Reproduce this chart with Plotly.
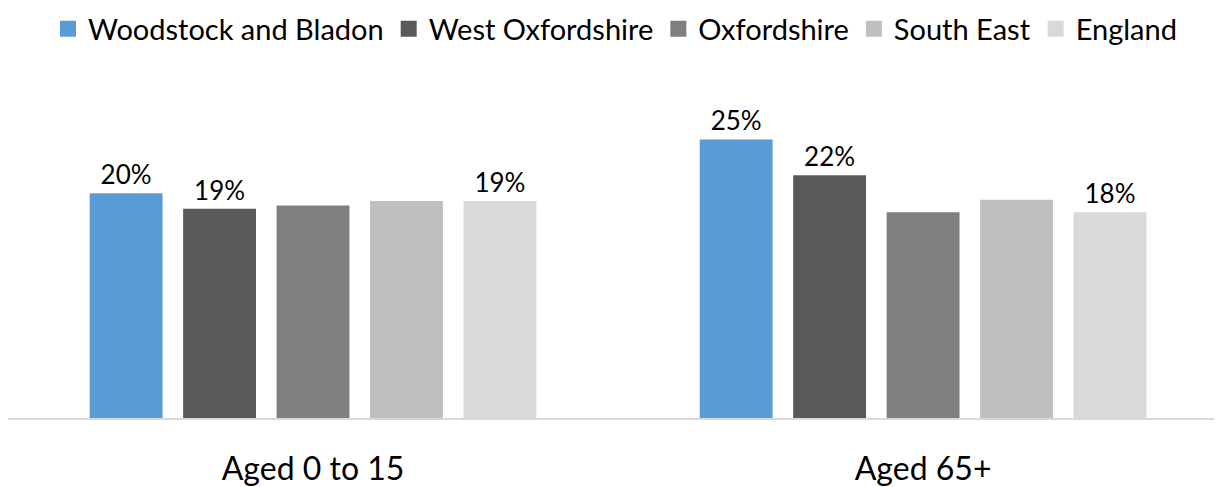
import plotly.graph_objects as go

categories = ["Aged 0 to 15", "Aged 65+"]
series_names = ["Woodstock and Bladon", "West Oxfordshire", "Oxfordshire", "South East", "England"]
woodstock = [0.201, 0.249]
west_oxon = [0.187, 0.217]
oxfordshire = [0.190, 0.184]
south_east = [0.194, 0.195]
england = [0.194, 0.184]
show_labels = [True, True, False, False, True]
colors = ["#5b9bd5", "#595959", "#7f7f7f", "#bfbfbf", "#d9d9d9"]

FONT = "Lato, Calibri, sans-serif"

fig = go.Figure()
for name, vals, lab, col in zip(series_names, [woodstock, west_oxon, oxfordshire, south_east, england], show_labels, colors):
    fig.add_trace(go.Bar(
        x=categories, y=vals, name=name, marker_color=col,
        marker_line_width=0, showlegend=False,
        texttemplate="%{y:.0%}" if lab else "",
        textposition="outside", cliponaxis=False,
        textfont=dict(size=26, color="#000000", family=FONT),
    ))
# legend entries with larger square swatches
for name, col in zip(series_names, colors):
    fig.add_trace(go.Scatter(
        x=[None], y=[None], mode="markers", name=name,
        marker=dict(symbol="square", size=18, color=col),
        showlegend=True, hoverinfo="skip",
    ))

fig.update_layout(
    barmode="group", bargap=0.234, bargroupgap=0.22,
    width=1214, height=479,
    margin=dict(l=0, r=0, t=52, b=69, autoexpand=False),
    paper_bgcolor="white", plot_bgcolor="white",
    font=dict(family=FONT, color="#000000"),
    legend=dict(orientation="h", x=0.5, xanchor="center", y=1.158, yanchor="top",
                yref="paper", font=dict(size=29, family=FONT), itemwidth=30,
                traceorder="normal", bgcolor="rgba(0,0,0,0)"),
    showlegend=True,
    xaxis=dict(type="category", range=[-0.5, 1.49], showline=True, linecolor="#d9d9d9",
               linewidth=2, ticks="", tickfont=dict(size=32, family=FONT),
               ticklabelstandoff=22),
    yaxis=dict(range=[0, 0.32], visible=False, showgrid=False, zeroline=False),
)
fig.write_html("out.html")
